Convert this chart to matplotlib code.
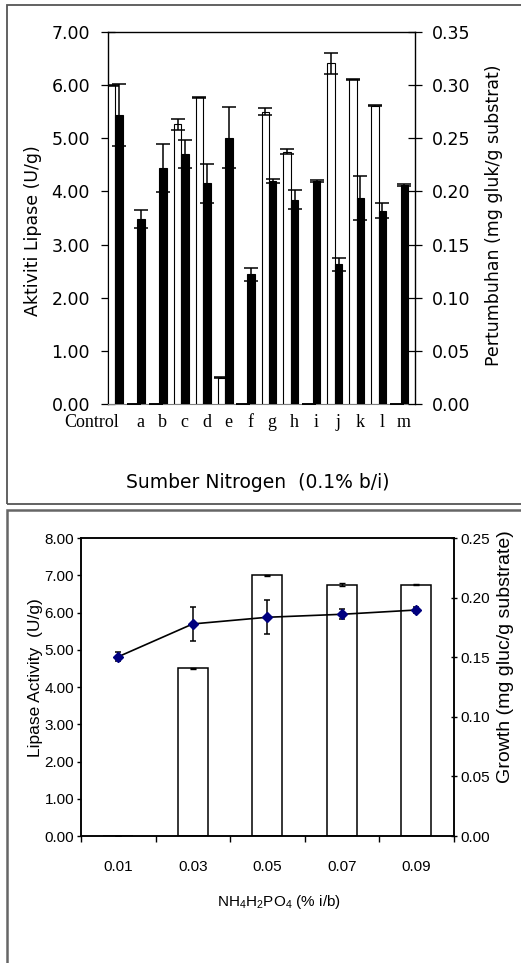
import matplotlib
matplotlib.use('Agg')
import matplotlib.pyplot as plt
from matplotlib.patches import Rectangle
import numpy as np

# ---------------- data: top chart ----------------
nitrogen_sources = ['Control', 'a', 'b', 'c', 'd', 'e', 'f', 'g', 'h', 'i', 'j', 'k', 'l', 'm']
lipase_activity = [6.00, 0.00, 0.00, 5.26, 5.77, 0.49, 0.00, 5.50, 4.75, 0.00, 6.41, 6.11, 5.61, 0.00]
lipase_err = [0.01, 0.00, 0.00, 0.10, 0.01, 0.01, 0.00, 0.07, 0.05, 0.00, 0.20, 0.01, 0.01, 0.00]
growth = [0.272, 0.174, 0.222, 0.235, 0.2075, 0.2505, 0.122, 0.210, 0.192, 0.210, 0.1315, 0.194, 0.182, 0.206]
growth_err = [0.029, 0.0085, 0.023, 0.013, 0.0185, 0.0285, 0.006, 0.002, 0.009, 0.001, 0.006, 0.0205, 0.007, 0.001]
left_ticks_top = [0, 1, 2, 3, 4, 5, 6, 7]
right_ticks_top = [0.00, 0.05, 0.10, 0.15, 0.20, 0.25, 0.30, 0.35]

# ---------------- data: bottom chart ----------------
conc_labels = ['0.01', '0.03', '0.05', '0.07', '0.09']
lipase2 = [0.00, 4.50, 7.00, 6.75, 6.75]
lipase2_err = [0.00, 0.01, 0.01, 0.05, 0.005]
growth2 = [0.1504, 0.1779, 0.1835, 0.1860, 0.1896]
growth2_err = [0.0037, 0.0141, 0.0143, 0.0043, 0.0028]
left_ticks_bot = [0, 1, 2, 3, 4, 5, 6, 7, 8]
right_ticks_bot = [0.00, 0.05, 0.10, 0.15, 0.20, 0.25]

plt.rcParams['mathtext.fontset'] = 'custom'
plt.rcParams['mathtext.rm'] = 'Liberation Sans'
plt.rcParams['mathtext.it'] = 'Liberation Sans:italic'
plt.rcParams['mathtext.bf'] = 'Liberation Sans:bold'

W, H = 521, 963
fig = plt.figure(figsize=(W / 100, H / 100), dpi=100)
fig.patch.set_facecolor('white')


def fr(l, t, r, b):
    return [l / W, 1 - b / H, (r - l) / W, (b - t) / H]


SANS = ['DejaVu Sans']
SERIF = ['Liberation Serif', 'DejaVu Serif']
ARIAL = ['Liberation Sans', 'DejaVu Sans']

# panel frames
fig.add_artist(Rectangle((7 / W, 1 - 504 / H), 1.2, (504 - 5) / H, fill=False,
                         ec='#555555', lw=1.3, transform=fig.transFigure, clip_on=False))
fig.add_artist(Rectangle((7 / W, -0.2), 1.2, (1 - 510 / H) + 0.2, fill=False,
                         ec='#666666', lw=1.8, transform=fig.transFigure, clip_on=False))

# ================= TOP CHART =================
ax1 = fig.add_axes(fr(108, 32, 415, 404))
ax1r = ax1.twinx()
n = len(nitrogen_sources)
x = np.arange(n)
bw = 0.342

ax1.bar(x, lipase_activity, width=bw, align='edge', color='white', edgecolor='black',
        linewidth=0.8, zorder=3)
ax1.errorbar(x + bw / 2, lipase_activity, yerr=lipase_err, fmt='none', ecolor='black',
             elinewidth=1.1, capsize=5, capthick=1.1, zorder=4)
ax1r.bar(x + bw, growth, width=bw, align='edge', color='black', edgecolor='black',
         linewidth=0.8, zorder=3)
ax1r.errorbar(x + 1.5 * bw, growth, yerr=growth_err, fmt='none', ecolor='black',
              elinewidth=1.1, capsize=5, capthick=1.1, zorder=4)

ax1.set_xlim(0, n)
ax1.set_ylim(0, 7)
ax1r.set_ylim(0, 0.35)

ax1.set_yticks(left_ticks_top)
ax1.set_yticklabels(['%.2f' % v for v in left_ticks_top], family=SANS, fontsize=12.5)
ax1r.set_yticks(right_ticks_top)
ax1r.set_yticklabels(['%.2f' % v for v in right_ticks_top], family=SANS, fontsize=12.5)
ax1.tick_params(axis='y', direction='inout', length=10, width=0.9, pad=8)
ax1r.tick_params(axis='y', direction='inout', length=10, width=0.9, pad=7)

ax1.set_xticks(x + 0.49)
ax1.set_xticklabels(nitrogen_sources, family=SERIF, fontsize=13)
ax1.get_xticklabels()[0].set_ha('right')
ax1.tick_params(axis='x', length=0, pad=7.5)

for sp in ['top', 'left']:
    ax1.spines[sp].set_color('black')
    ax1.spines[sp].set_linewidth(1.0)
ax1.spines['bottom'].set_color('#808080')
ax1.spines['right'].set_visible(False)
for sp in ['top', 'left', 'bottom']:
    ax1r.spines[sp].set_visible(False)
ax1r.spines['right'].set_linewidth(1.0)

ax1.set_ylabel('Aktiviti Lipase (U/g)', family=SANS, fontsize=12.5, va='center')
ax1.yaxis.set_label_coords((33.5 - 108) / 307, (404 - 231) / 372)
ax1r.set_ylabel('Pertumbuhan (mg gluk/g substrat)', family=SANS, fontsize=12.5,
                va='center', rotation=90)
ax1r.yaxis.set_label_coords((494 - 108) / 307, (404 - 215) / 372)
ax1.set_xlabel('Sumber Nitrogen  (0.1% b/i)', family=SANS, fontsize=13.5, va='center')
ax1.xaxis.set_label_coords((257.5 - 108) / 307, (404 - 482) / 372)

# ================= BOTTOM CHART =================
ax2 = fig.add_axes(fr(81, 538, 453.5, 836))
ax2r = ax2.twinx()
m = len(conc_labels)
xb = np.arange(m)

ax2.bar(xb, lipase2, width=0.4, color='white', edgecolor='black', linewidth=1.1, zorder=2)
ax2.errorbar(xb, lipase2, yerr=lipase2_err, fmt='none', ecolor='black',
             elinewidth=1.0, capsize=2.5, capthick=1.0, zorder=3)
ax2r.errorbar(xb, growth2, yerr=growth2_err, fmt='none', ecolor='black',
              elinewidth=1.1, capsize=2.2, capthick=1.1, zorder=3)
ax2r.plot(xb, growth2, color='black', lw=1.2, marker='D', ms=4.6,
          markerfacecolor='#00007f', markeredgecolor='#00007f', zorder=4)

ax2.set_xlim(-0.5, m - 0.5)
ax2.set_ylim(0, 8)
ax2r.set_ylim(0, 0.25)

ax2.set_xticks(np.arange(m + 1) - 0.5)
ax2.set_xticklabels([])
ax2.set_xticks(xb, minor=True)
ax2.set_xticklabels(conc_labels, minor=True, family=ARIAL, fontsize=11)
ax2.tick_params(axis='x', which='major', direction='out', length=4.3, width=1.0)
ax2.tick_params(axis='x', which='minor', length=0, pad=17)

ax2.set_yticks(left_ticks_bot)
ax2.set_yticklabels(['%.2f' % v for v in left_ticks_bot], family=ARIAL, fontsize=11)
ax2.tick_params(axis='y', direction='out', length=3, width=1.0, pad=2)
ax2r.set_yticks(right_ticks_bot)
ax2r.set_yticklabels(['%.2f' % v for v in right_ticks_bot], family=ARIAL, fontsize=11)
ax2r.tick_params(axis='y', direction='inout', length=5, width=1.0, pad=2.2)

for axx in (ax2, ax2r):
    for sp in axx.spines.values():
        sp.set_linewidth(1.1)
        sp.set_color('black')

ax2.set_ylabel('Lipase Activity  (U/g)', family=ARIAL, fontsize=12.5, va='center')
ax2.yaxis.set_label_coords((36 - 81) / 372.5, (836 - 678) / 298)
ax2r.set_ylabel('Growth (mg gluc/g substrate)', family=ARIAL,
                fontsize=14, va='center', rotation=90)
ax2r.yaxis.set_label_coords((505 - 81) / 372.5, (836 - 657) / 298)

ax2.set_xlabel(r'NH$_4$H$_2$PO$_4$ (% i/b)', family=ARIAL, fontsize=11, va='center')
ax2.xaxis.set_label_coords((278.5 - 81) / 372.5, (836 - 902) / 298)

fig.savefig('out.png', dpi=100, facecolor='white')
